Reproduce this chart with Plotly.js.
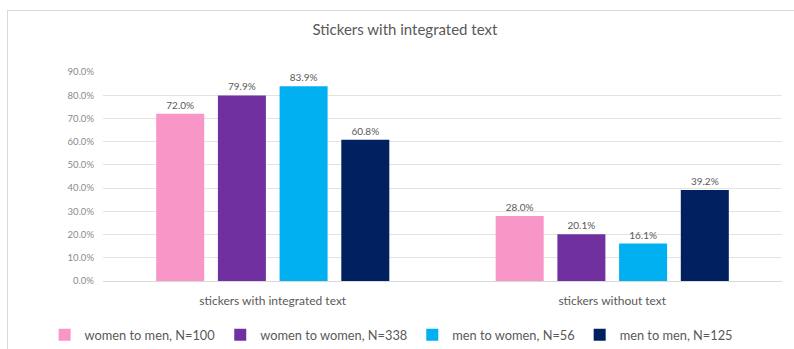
<!DOCTYPE html>
<html><head><meta charset="utf-8">
<script src="https://cdn.plot.ly/plotly-3.0.1.min.js"></script>
<style>
body{margin:0;padding:0;background:#fff;}
#wrap{position:relative;width:794px;height:349px;overflow:hidden;}
#frame{position:absolute;left:7px;top:10px;width:800px;height:400px;border:1px solid #d9d9d9;box-sizing:border-box;}
#chart{position:absolute;left:0;top:0;width:794px;height:349px;}
</style></head>
<body><div id="wrap"><div id="frame"></div><div id="chart"></div></div>
<script>
const categories = ["stickers with integrated text", "stickers without text"];
const seriesNames = ["women to men, N=100", "women to women, N=338", "men to women, N=56", "men to men, N=125"];
const womenToMen = [72.0, 28.0];
const womenToWomen = [79.9, 20.1];
const menToWomen = [83.9, 16.1];
const menToMen = [60.8, 39.2];
const colors = ["#F896C8", "#7030A0", "#00B0F0", "#002060"];
const yTicks = [0,10,20,30,40,50,60,70,80,90];

const values = [womenToMen, womenToWomen, menToWomen, menToMen];
const font = "Lato, 'Open Sans', sans-serif";
const traces = values.map((v, i) => ({
  type: "bar",
  name: seriesNames[i],
  x: categories,
  y: v,
  marker: {color: colors[i]},
  text: v.map(d => d.toFixed(1) + "%"),
  textposition: "outside",
  textfont: {family: font, size: 10, color: "#595959"},
  cliponaxis: false,
  hoverinfo: "skip"
}));

const layout = {
  width: 794, height: 349,
  paper_bgcolor: "rgba(0,0,0,0)", plot_bgcolor: "rgba(0,0,0,0)",
  margin: {l: 103, r: 12, t: 72, b: 68, autoexpand: false},
  title: {text: "Stickers with integrated text", font: {family: font, size: 15, color: "#595959"}, x: 0.51, xanchor: "center", y: 0.914, yanchor: "middle"},
  barmode: "group",
  bargap: 0.273,
  bargroupgap: 0.222,
  showlegend: true,
  legend: {orientation: "h", x: -0.086, xanchor: "left", y: -0.258, yanchor: "middle",
           font: {family: font, size: 12.8, color: "#595959"}, itemwidth: 30, traceorder: "normal"},
  xaxis: {type: "category", showgrid: false, showline: true, linecolor: "#d9d9d9", linewidth: 1,
          ticks: "", ticklabelstandoff: 9, tickfont: {family: font, size: 12, color: "#595959"}},
  yaxis: {range: [0, 90], tickvals: yTicks, ticktext: yTicks.map(t => t.toFixed(1) + "%"),
          showgrid: true, gridcolor: "#e3e3e3", zeroline: false, showline: false,
          ticks: "", ticklabelstandoff: 8, tickfont: {family: font, size: 9.5, color: "#8a8a8a"}}
};
Plotly.newPlot("chart", traces, layout, {displayModeBar: false, staticPlot: true});
</script></body></html>
